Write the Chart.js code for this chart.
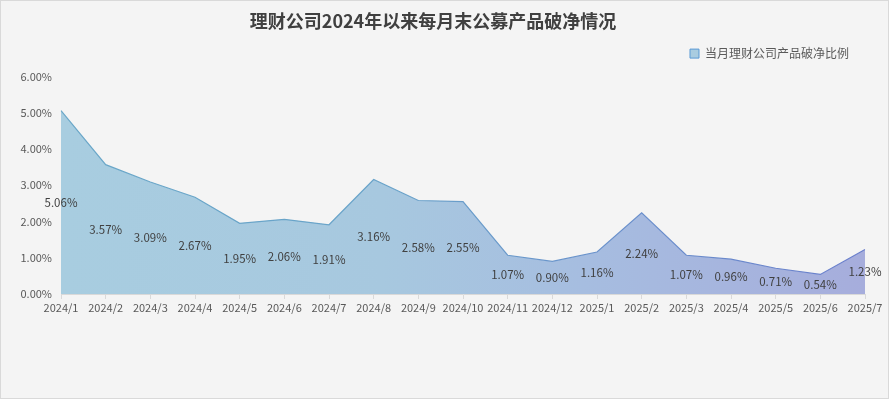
<!DOCTYPE html>
<html>
<head>
<meta charset="utf-8">
<script src="https://cdn.jsdelivr.net/npm/chart.js@4.4.1/dist/chart.umd.min.js"></script>
<style>
  html, body { margin: 0; padding: 0; background: #f4f4f4; }
  #wrap { width: 887px; height: 397px; border: 1px solid #d9d9d9; background: #f4f4f4; }
</style>
</head>
<body>
<div id="wrap"><canvas id="chartPoJing"></canvas></div>
<script>
// datos
const meses = ["2024/1", "2024/2", "2024/3", "2024/4", "2024/5", "2024/6", "2024/7", "2024/8", "2024/9", "2024/10",
               "2024/11", "2024/12", "2025/1", "2025/2", "2025/3", "2025/4", "2025/5", "2025/6", "2025/7"];
const poJing = [5.06, 3.57, 3.09, 2.67, 1.95, 2.06, 1.91, 3.16, 2.58, 2.55,
                1.07, 0.90, 1.16, 2.24, 1.07, 0.96, 0.71, 0.54, 1.23];
const yTicks = [0, 1, 2, 3, 4, 5, 6];

const fuente = "'Noto Sans CJK SC', 'Microsoft YaHei', sans-serif";

// degradado horizontal segun el area del grafico
function degradado(ctx, area, paradas) {
    const g = ctx.createLinearGradient(area.left, 0, area.right, 0);
    paradas.forEach(([p, c]) => g.addColorStop(p, c));
    return g;
}

// etiquetas en el centro del area
const etiquetas = {
    id: "etiquetas",
    afterDatasetsDraw(chart) {
        const { ctx, scales: { x, y } } = chart;
        ctx.save();
        ctx.font = "11.5px " + fuente;
        ctx.fillStyle = "#404040";
        ctx.textAlign = "center";
        ctx.textBaseline = "middle";
        poJing.forEach((v, i) => {
            ctx.fillText(v.toFixed(2) + "%", x.getPixelForValue(i), y.getPixelForValue(v / 2));
        });
        ctx.restore();
    }
};

// un poco mas de espacio debajo de la leyenda
const espacioLeyenda = {
    id: "espacioLeyenda",
    beforeUpdate(chart) {
        const leg = chart.legend;
        if (leg && !leg._ajustado) {
            const fit = leg.fit;
            leg.fit = function () { fit.call(this); this.height += 7; };
            leg._ajustado = true;
        }
    }
};

new Chart(document.getElementById("chartPoJing"), {
    type: "line",
    data: {
        labels: meses,
        datasets: [{
            label: "当月理财公司产品破净比例",
            data: poJing,
            fill: "origin",
            tension: 0,
            pointRadius: 0,
            borderWidth: 1.2,
            borderColor: c => {
                const a = c.chart.chartArea;
                if (!a) return "#6aa7c8";
                return degradado(c.chart.ctx, a, [[0, "#6aa7c8"], [0.4, "#69a3c9"], [0.65, "#6a93cb"], [1, "#6b7fcc"]]);
            },
            backgroundColor: c => {
                const a = c.chart.chartArea;
                if (!a) return "#a8cce0";
                return degradado(c.chart.ctx, a, [[0, "#a8cde0"], [0.4, "#a7c8df"], [0.65, "#a6bde0"], [1, "#a6addc"]]);
            }
        }]
    },
    options: {
        responsive: true,
        maintainAspectRatio: false,
        animation: false,
        layout: { padding: { left: 0, right: 23, top: 0, bottom: 0 } },
        plugins: {
            title: {
                display: true,
                text: "理财公司2024年以来每月末公募产品破净情况",
                color: "#404040",
                font: { family: fuente, size: 18, weight: "bold" },
                padding: { top: 9, bottom: 0 }
            },
            legend: {
                align: "end",
                labels: {
                    color: "#595959",
                    font: { family: fuente, size: 12 },
                    boxWidth: 9,
                    boxHeight: 9,
                    padding: 16,
                    generateLabels: () => [{
                        text: "当月理财公司产品破净比例",
                        fillStyle: "#a9cce0",
                        strokeStyle: "#5b9bd5",
                        lineWidth: 1,
                        fontColor: "#595959"
                    }]
                }
            },
            tooltip: { enabled: false }
        },
        scales: {
            x: {
                offset: false,
                grid: { drawOnChartArea: false, drawTicks: true, tickLength: 5, color: "#d9d9d9" },
                border: { color: "#d9d9d9" },
                ticks: { color: "#595959", font: { family: fuente, size: 11 }, maxRotation: 0, autoSkip: false, padding: 2 },
                afterFit: s => { s.height = 104; }
            },
            y: {
                min: 0,
                max: 6,
                grid: { display: false, drawTicks: false },
                border: { display: false },
                afterBuildTicks: s => { s.ticks = yTicks.map(v => ({ value: v })); },
                ticks: {
                    color: "#595959",
                    font: { family: fuente, size: 11 },
                    padding: 9,
                    callback: v => v.toFixed(2) + "%"
                },
                afterFit: s => { s.width = 60; }
            }
        }
    },
    plugins: [etiquetas, espacioLeyenda]
});
</script>
</body>
</html>
